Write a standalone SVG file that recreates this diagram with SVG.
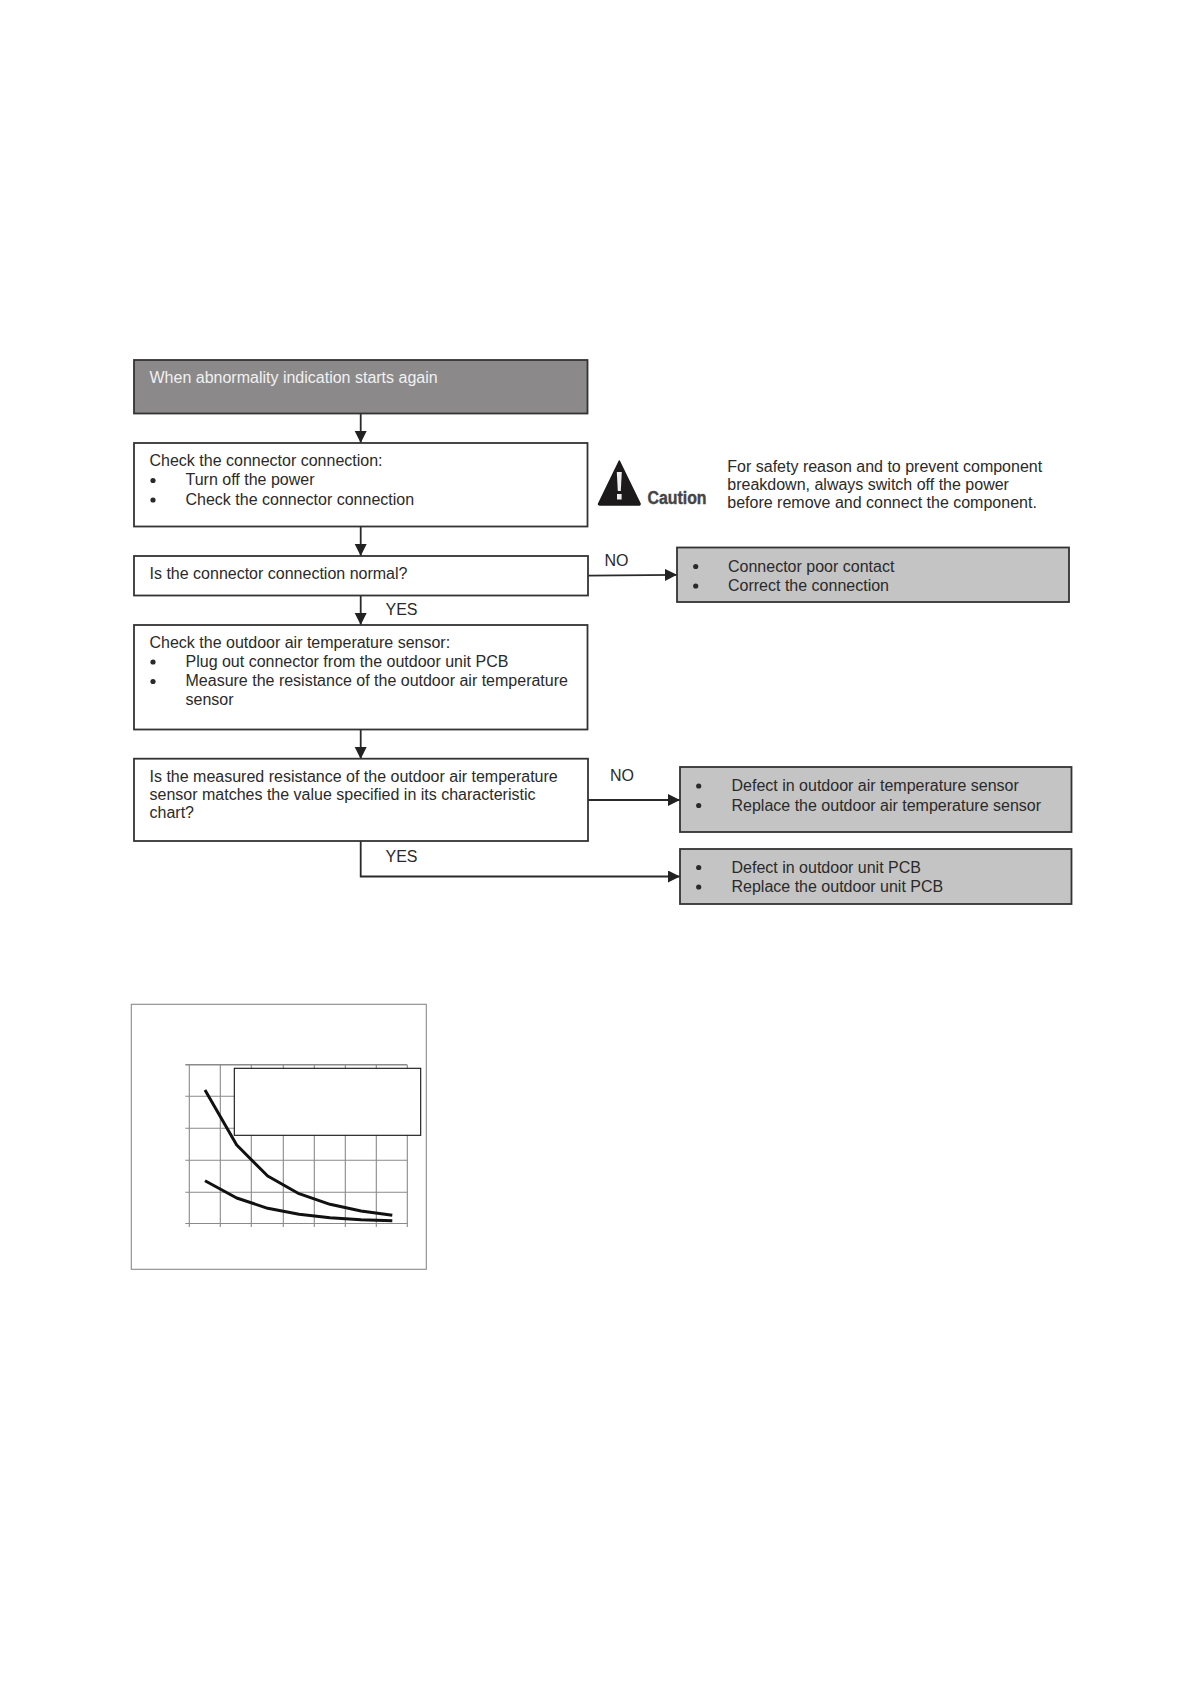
<svg xmlns="http://www.w3.org/2000/svg" width="1191" height="1684" viewBox="0 0 1191 1684">
<style>
text{font-family:"Liberation Sans",Arial,sans-serif;font-size:16px;fill:#2a2a2a}
.b{stroke:#333;stroke-width:1.8}
.w{fill:#fff}.g{fill:#c4c4c4}
.c{fill:none;stroke:#2a2a2a;stroke-width:1.8}
.dot{fill:#2a2a2a}
.grid{stroke:#8a8a8a;stroke-width:1.1;fill:none}
.curve{fill:none;stroke:#111;stroke-width:3;stroke-linejoin:round}
</style>
<defs>
<marker id="arr" markerUnits="userSpaceOnUse" markerWidth="13" markerHeight="13" refX="12" refY="6" orient="auto"><path d="M0 0L12 6L0 12Z" fill="#222"/></marker>
</defs>
<rect width="1191" height="1684" fill="#fff"/>
<g id="connectors">
<path class="c" d="M360.7 414V443" marker-end="url(#arr)"/>
<path class="c" d="M360.7 527V556" marker-end="url(#arr)"/>
<path class="c" d="M360.7 596V625" marker-end="url(#arr)"/>
<path class="c" d="M360.7 730V759" marker-end="url(#arr)"/>
<path class="c" d="M588 575.7L677 574.8" marker-end="url(#arr)"/>
<path class="c" d="M588 800H680" marker-end="url(#arr)"/>
<path class="c" d="M360.7 841V876.5H680" marker-end="url(#arr)"/>
</g>
<g id="n1"><rect class="b" x="134" y="360" width="453.5" height="53.5" fill="#8b898a"/><text x="149.5" y="382.5" style="fill:#f1f1f1">When abnormality indication starts again</text></g>
<g id="n2"><rect class="b w" x="134" y="443" width="453.5" height="83.5"/><text x="149.5" y="465.5">Check the connector connection:</text><circle class="dot" cx="153" cy="480.5" r="2.6"/><text x="185.5" y="485.2">Turn off the power</text><circle class="dot" cx="153" cy="500" r="2.6"/><text x="185.5" y="505">Check the connector connection</text></g>
<g id="n3"><rect class="b w" x="134" y="556" width="454" height="39.5"/><text x="149.5" y="579">Is the connector connection normal?</text></g>
<g id="n4"><rect class="b w" x="134" y="625" width="453.5" height="104.5"/><text x="149.5" y="647.5">Check the outdoor air temperature sensor:</text><circle class="dot" cx="153" cy="662" r="2.6"/><text x="185.5" y="667">Plug out connector from the outdoor unit PCB</text><circle class="dot" cx="153" cy="681.5" r="2.6"/><text x="185.5" y="686.3">Measure the resistance of the outdoor air temperature</text><text x="185.5" y="705">sensor</text></g>
<g id="n5"><rect class="b w" x="134" y="758.7" width="454" height="82.3"/><text x="149.5" y="781.5">Is the measured resistance of the outdoor air temperature</text><text x="149.5" y="800">sensor matches the value specified in its characteristic</text><text x="149.5" y="818">chart?</text></g>
<g id="n6"><rect class="b g" x="677" y="547.5" width="392" height="54.5"/><circle class="dot" cx="695.7" cy="566.5" r="2.6"/><text x="728" y="571.7">Connector poor contact</text><circle class="dot" cx="695.7" cy="586" r="2.6"/><text x="728" y="591.3">Correct the connection</text></g>
<g id="n7"><rect class="b g" x="680" y="767" width="391.5" height="65"/><circle class="dot" cx="698.7" cy="786" r="2.6"/><text x="731.5" y="791.3">Defect in outdoor air temperature sensor</text><circle class="dot" cx="698.7" cy="805.5" r="2.6"/><text x="731.5" y="811">Replace the outdoor air temperature sensor</text></g>
<g id="n8"><rect class="b g" x="680" y="849" width="391.5" height="55"/><circle class="dot" cx="698.7" cy="867.5" r="2.6"/><text x="731.5" y="872.7">Defect in outdoor unit PCB</text><circle class="dot" cx="698.7" cy="887" r="2.6"/><text x="731.5" y="892.3">Replace the outdoor unit PCB</text></g>
<g id="labels"><text x="604.5" y="566">NO</text><text x="385.5" y="615">YES</text><text x="610" y="780.5">NO</text><text x="385.5" y="862">YES</text></g>
<g id="caution">
<path d="M619.3 461L640 503.5Q640.5 505 638.5 505H600Q598 505 598.7 503.5Z" fill="#1c1a1b" stroke="#1c1a1b" stroke-width="1.5" stroke-linejoin="round"/>
<path d="M616.8 472H621.8L620.8 491H617.8Z" fill="#eee"/><rect x="617" y="494" width="4.6" height="5.5" fill="#eee"/>
<text x="647.5" y="504" textLength="59" lengthAdjust="spacingAndGlyphs" stroke="#444" stroke-width="0.4" style="font-weight:700;font-size:17.5px;fill:#444">Caution</text>
<text x="727.3" y="471.5">For safety reason and to prevent component</text><text x="727.3" y="490">breakdown, always switch off the power</text><text x="727.3" y="508">before remove and connect the component.</text>
</g>
<g id="chart">
<rect x="131.3" y="1004.3" width="295" height="265" fill="#fff" stroke="#8a8a8a" stroke-width="1.1"/>
<path class="grid" d="M189.3 1065V1227M220.3 1065V1227M251.3 1065V1227M283.3 1065V1227M314.3 1065V1227M345.3 1065V1227M376.3 1065V1227M407.3 1065V1227"/>
<path class="grid" d="M185.3 1096.3H407.3M185.3 1128.3H407.3M185.3 1160.3H407.3M185.3 1192.3H407.3M185.3 1223.5H407.3"/>
<path d="M185.3 1064.7H407.3" stroke="#8a8a8a" stroke-width="1.6"/>
<rect x="234.3" y="1068.3" width="186.4" height="67" fill="#fff" stroke="#111" stroke-width="1.1"/>
<path class="curve" d="M205 1090L236.7 1145L267.7 1176L299 1193.7L330 1204.3L361 1211L392.3 1215.3"/>
<path class="curve" d="M205 1180.7L236.7 1198L267.7 1208.3L299 1214.3L330 1217.7L361 1219.7L392.3 1220.7"/>
</g>
</svg>
